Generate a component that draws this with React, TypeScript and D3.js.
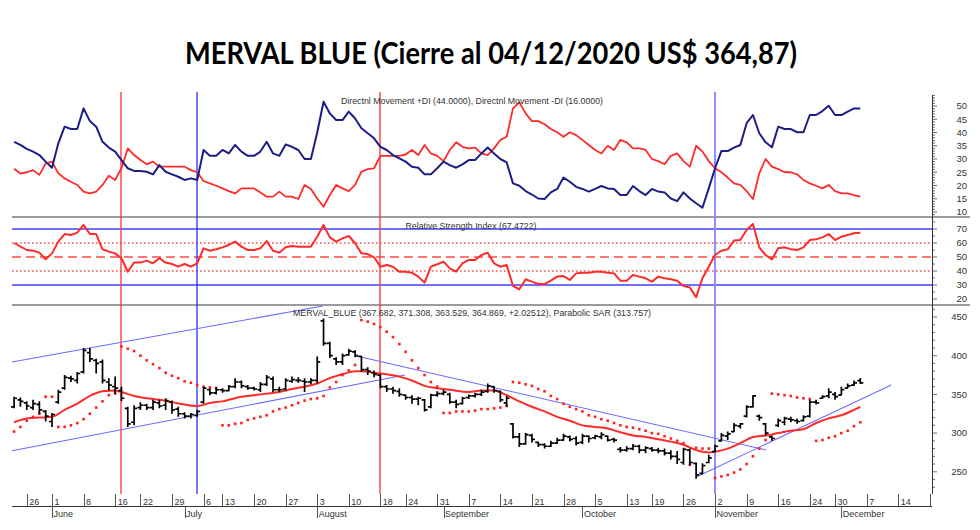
import React from "react";
import * as d3 from "d3";

// ---------- texts ----------
const title = "MERVAL BLUE (Cierre al 04/12/2020 US$ 364,87)";
const dmiLegend = "Directnl Movement +DI (44.0000), Directnl Movement -DI (16.0000)";
const rsiLegend = "Relative Strength Index (67.4722)";
const priceLegend = "MERVAL_BLUE (367.682, 371.308, 363.529, 364.869, +2.02512), Parabolic SAR (313.757)";

// ---------- calendar ----------
const firstDay = "2020-05-21";
const lastAxisDay = "2020-12-21";
const holidays = ["2020-05-25", "2020-06-15", "2020-07-09", "2020-07-10", "2020-08-17", "2020-10-12", "2020-11-23"];
const monthNames = ["January", "February", "March", "April", "May", "June", "July", "August", "September", "October", "November", "December"];

// ---------- price (one value per trading day from 2020-05-21 to 2020-12-04) ----------
const openP = [
  334, 343, 339, 333, 337, 328, 315, 340, 358, 371, 368, 379, 404, 394, 392, 366, 360, 355, 332, 314,
  333, 336, 333, 339, 336, 340, 331, 325, 322, 323, 340, 356, 352, 356, 355, 360, 366, 360, 358, 356,
  363, 370, 356, 357, 367, 368, 367, 366, 368, 445, 416, 396, 392, 401, 405, 399, 382, 378, 375, 360,
  357, 354, 349, 346, 344, 343, 334, 349, 351, 350, 340, 338, 346, 348, 350, 354, 360, 354, 339, 312,
  295, 286, 297, 288, 285, 283, 287, 291, 295, 293, 288, 296, 294, 295, 296, 292, 279, 278, 280, 283,
  278, 280, 278, 277, 274, 270, 262, 278, 261, 248, 262, 276, 290, 296, 302, 309, 322, 334, 322, 312,
  295, 310, 314, 318, 316, 316, 322, 340, 345, 348, 350, 349, 358, 362, 367.68
];
const highP = [
  347, 346, 341, 343, 341, 330, 326, 356, 375, 374, 379, 410, 410, 396, 395, 371, 373, 360, 334, 336,
  340, 338, 343, 343, 345, 342, 334, 327, 326, 330, 360, 358, 360, 358, 362, 371, 368, 362, 360, 366,
  375, 373, 360, 371, 373, 372, 371, 371, 399, 448, 418, 398, 403, 409, 407, 400, 385, 381, 376, 362,
  360, 358, 350, 349, 347, 344, 351, 354, 356, 352, 343, 347, 350, 352, 356, 364, 361, 355, 348, 313,
  300, 300, 299, 289, 287, 290, 294, 299, 297, 296, 299, 297, 298, 301, 297, 294, 282, 283, 286, 285,
  283, 282, 281, 280, 278, 277, 281, 280, 262, 261, 272, 285, 300, 302, 313, 313, 336, 349, 324, 313,
  297, 319, 321, 321, 319, 323, 343, 343, 349, 358, 353, 360, 364, 368, 371.31
];
const lowP = [
  332, 334, 330, 330, 325, 315, 308, 338, 356, 366, 364, 377, 392, 377, 364, 355, 351, 341, 308, 310,
  330, 330, 330, 332, 330, 325, 321, 319, 319, 321, 338, 349, 350, 352, 354, 358, 358, 356, 355, 353,
  361, 353, 353, 355, 365, 365, 353, 363, 364, 413, 397, 388, 388, 400, 398, 379, 375, 372, 358, 353,
  351, 347, 343, 338, 336, 328, 332, 347, 349, 338, 332, 337, 344, 346, 348, 352, 352, 340, 334, 293,
  282, 285, 288, 282, 280, 282, 286, 290, 289, 284, 286, 288, 292, 292, 289, 288, 275, 276, 278, 274,
  274, 276, 274, 271, 266, 260, 259, 258, 241, 247, 261, 275, 289, 291, 301, 306, 320, 333, 316, 297,
  290, 308, 310, 314, 312, 315, 320, 337, 344, 345, 343, 349, 358, 361, 363.53
];
const closeP = [
  345, 341, 335, 338, 330, 322, 324, 353, 372, 370, 377, 407, 396, 390, 368, 362, 358, 345, 312, 332,
  336, 333, 340, 335, 342, 330, 325, 322, 324, 328, 358, 352, 356, 355, 360, 366, 361, 358, 357, 363,
  372, 356, 356, 368, 369, 368, 366, 368, 392, 416, 400, 392, 400, 406, 400, 382, 380, 376, 360, 357,
  355, 350, 346, 344, 345, 330, 349, 351, 353, 340, 337, 345, 348, 350, 353, 361, 355, 343, 345, 295,
  286, 298, 292, 285, 283, 287, 291, 296, 292, 287, 296, 293, 296, 298, 291, 291, 278, 280, 283, 278,
  281, 278, 277, 274, 270, 266, 279, 262, 246, 258, 268, 283, 297, 299, 310, 312, 334, 348, 320, 300,
  293, 316, 319, 317, 315, 321, 340, 339, 347, 353, 347, 356, 361, 365, 364.87
];
const sarP = [
  302, 308, 316, 321, 325, 347, 347, 308, 308, 310, 313, 318, 325, 333, 341, 349, 351, 412, 409, 406,
  400, 394, 389, 384, 378, 374, 371, 367, 365, 362, 360, 359, 358, 310, 310, 312, 313, 317, 319, 321,
  323, 328, 331, 333, 336, 339, 342, 344, 345, 348, 359, 366, 375, 381, 388, 446, 444, 441, 437, 431,
  424, 415, 405, 394, 384, 375, 366, 360, 326, 326, 328, 328, 328, 329, 331, 331, 332, 333, 335, 366,
  365, 363, 361, 357, 354, 348, 344, 338, 334, 331, 328, 323, 321, 318, 316, 313, 310, 308, 307, 305,
  303, 300, 299, 296, 293, 290, 287, 259, 281, 280, 280, 242, 244, 246, 249, 253, 260, 270, 280, 291,
  351, 350, 349, 348, 346, 345, 344, 290, 291, 294, 296, 300, 303, 309, 314
];
// moving average read at selected trading-day indexes
const smaDay = [0, 2, 4, 6, 8, 10, 12, 14, 16, 17, 19, 21, 23, 25, 27, 29, 31, 33, 36, 38, 40, 42, 44, 46, 48, 50, 52, 54, 55, 57, 59, 61, 63, 65, 67, 69, 72, 74, 76, 78, 80, 82, 84, 86, 88, 90, 92, 94, 96, 98, 100, 102, 104, 106, 108, 109, 110, 111, 113, 115, 117, 119, 121, 123, 125, 127, 129, 131, 133, 134];
const smaVal = [314, 319, 320, 321, 330, 338, 348, 354, 355, 353, 348, 345, 343, 340, 337, 335, 339, 341, 347, 349, 351, 353, 357, 360, 364, 371, 376, 380, 380, 378, 376, 373, 368, 361, 358, 356, 353, 355, 355, 349, 341, 334, 328, 321, 316, 310, 308, 306, 301, 297, 295, 292, 289, 285, 278, 276, 275, 276, 280, 287, 295, 297, 300, 303, 305, 313, 319, 323, 330, 334];

// ---------- DMI ----------
const plusDI = [
  36.5, 35.3, 33.8, 32.8, 31.5, 29, 26.7, 35.9, 42.2, 41.3, 41.3, 49.1, 44.3, 42.2, 36.5, 34.3, 32.8, 29.6, 26.5, 25.5,
  25.5, 25.2, 24.2, 27.7, 25.2, 24.2, 23.3, 22.1, 22.7, 22.1, 33.4, 31.2, 31.2, 33.4, 32.1, 35.3, 32.8, 31.2, 31.2, 32.8,
  36.5, 32.1, 31.2, 35.5, 34.6, 33.4, 30, 30, 40, 51.6, 47.2, 44.7, 44.7, 47.9, 45.3, 41.6, 39.7, 37.8, 34.6, 33.4,
  31.5, 30.2, 29, 27.1, 26.7, 24.2, 24.2, 26.5, 29, 27.7, 26.7, 28, 29.6, 29.6, 32.1, 34.3, 32.1, 30, 28.7, 20.8,
  19.9, 17.9, 16.6, 15.1, 14.9, 17.4, 18.7, 23, 21.4, 19.5, 18.7, 17.7, 18.7, 19.8, 18.9, 18.7, 16.4, 16.4, 19.8, 17.9,
  16.4, 18.7, 17.7, 17.4, 15.1, 14.1, 17.4, 15.1, 13.3, 11.6, 18.9, 26.5, 33, 33, 34.3, 35.3, 43.5, 46.6, 39.7, 36.3,
  34.4, 42.2, 41.3, 41.3, 40.1, 40.1, 46.6, 46.6, 48.1, 50.1, 46.6, 46.6, 47.9, 49.1, 49.1
];
const minusDI = [
  26.3, 24.5, 25, 25.8, 24, 28.3, 29, 24.6, 22.7, 21.4, 20.2, 17.7, 17, 17.7, 20.2, 23.7, 22.1, 26.5, 34, 31.5,
  29.6, 28, 29, 27.1, 27.1, 27.1, 27.1, 27.1, 25.8, 25, 21.7, 20.8, 19.9, 18.9, 17.9, 17, 18.9, 18.9, 18.9, 17.4,
  15.8, 15.8, 17.7, 15.8, 15.8, 14.9, 20.2, 18.7, 15.1, 12, 16.4, 20.2, 18.9, 17.9, 20.2, 25.2, 26.2, 26.5, 31.2, 31.2,
  31.2, 31.2, 31.7, 33.4, 31.5, 35.3, 32.1, 31.2, 29.2, 33.4, 36.3, 34.6, 34, 34.3, 32.1, 31.5, 34, 37.2, 38.4, 49.1,
  51.4, 47.2, 44.3, 44.3, 43.1, 41.3, 40.1, 38.4, 40.1, 39, 37.2, 35.3, 33.4, 32.1, 35, 33.4, 37.2, 36.3, 34, 34,
  33.4, 30, 29.2, 28, 31.2, 32.1, 29.2, 27.1, 35, 32.8, 29.2, 26.5, 25, 23, 20.8, 20.2, 17.9, 14.9, 24.6, 30,
  27.1, 26.2, 25, 25, 24.2, 22.1, 20.8, 19.9, 18.9, 20.2, 17.9, 17, 17, 16.4, 15.8
];

// ---------- RSI ----------
const rsi = [
  60, 57.5, 55, 54.5, 53.1, 48.3, 52.6, 61, 66.4, 65.7, 67.4, 72.9, 66.4, 66.4, 55.5, 53.8, 52.6, 49.1, 39.5, 46,
  46, 47.4, 45.5, 49.1, 46, 45, 43.1, 45, 43.1, 45.5, 56.2, 54.5, 55.5, 56.9, 58.6, 61, 57.4, 55, 55, 56.2,
  61.4, 54.5, 53.1, 56.9, 57.8, 57.4, 57.4, 57.4, 64.5, 72.9, 64, 61, 63.3, 65, 59.8, 52.6, 52.1, 49.8, 43.1, 44.3,
  43.1, 39.5, 39.5, 38.8, 36, 31.7, 43.1, 44.8, 46.7, 41.9, 39.5, 45.5, 47.9, 47.9, 51.4, 53.1, 45.5, 43.1, 44.3, 29.3,
  26.9, 34.1, 32.4, 30.7, 30.7, 33.1, 36, 36.4, 33.6, 38.3, 38.8, 38.8, 39.5, 39.5, 38.8, 38.3, 33.1, 33.1, 37.1, 36,
  34.8, 32.4, 36, 34.8, 34.1, 33.1, 29.3, 28.3, 21.2, 34.8, 43.1, 51.4, 54.5, 55.5, 61.7, 62.1, 69.3, 73.6, 56.9, 51.4,
  48.3, 56.2, 56.9, 55.5, 55, 56.9, 62.1, 62.6, 64, 66.4, 62.1, 64.5, 65.7, 66.9, 67.4
];
const rsiLevels = [70, 60, 50, 40, 30];

// ---------- annotations ----------
const markerDates = ["2020-06-17", "2020-07-03", "2020-08-18", "2020-11-02"];
const markerColors = ["#ff3030", "#2a2aff", "#ff3030", "#8e8eff"];
const markerWidths = [1.3, 1.3, 1.3, 2];
// trend lines: start/end as trading-day position and price
const trendX1 = [-0.33, -0.33, 54.2, 108.1];
const trendY1 = [391.9, 277.3, 399.6, 243.7];
const trendX2 = [48.9, 61.9, 119.1, 138.9];
const trendY2 = [464.2, 375, 278.2, 362.1];

const dmiTicks = [50, 45, 40, 35, 30, 25, 20, 15, 10];
const rsiTicks = [70, 60, 50, 40, 30, 20];
const priceTicks = [450, 400, 350, 300, 250];

const FONT = "'Liberation Sans', Arial, sans-serif";

export default function App() {
  const parse = d3.timeParse("%Y-%m-%d");
  const fmt = d3.timeFormat("%Y-%m-%d");
  const days = d3
    .timeDay.range(parse(firstDay)!, d3.timeDay.offset(parse(lastAxisDay)!, 1))
    .filter((d) => d.getDay() !== 0 && d.getDay() !== 6 && !holidays.includes(fmt(d)));

  const left = 12, right = 932, lineRight = 970;
  const dmiTop = 92, sep1 = 217, sep2 = 305, priceBottom = 494, axisY = 506;

  const x = d3.scaleLinear().domain([0, days.length - 1]).range([14.1, 14.1 + (days.length - 1) * 6.315]);
  const yD = d3.scaleLinear().domain([10, 50]).range([212, 106]);
  const yR = d3.scaleLinear().domain([30, 70]).range([285, 229]);
  const yP = d3.scaleLinear().domain([250, 400]).range([471.8, 355.7]);
  // colored hairlines centered on a pixel boundary so they keep their hue
  const soft = (v: number) => Math.round(v);

  const lineD = d3.line<number>().x((_, i) => x(i)).y((v) => yD(v));
  const lineR = d3.line<number>().x((_, i) => x(i)).y((v) => yR(v));
  const lineSma = d3
    .line<number>()
    .x((_, i) => x(smaDay[i]))
    .y((v) => yP(v))
    .curve(d3.curveMonotoneX);

  const bars = closeP.map((c, i) => {
    const cx = x(i);
    return `M${cx},${yP(highP[i])}V${yP(lowP[i])}M${cx - 3},${yP(openP[i])}H${cx}M${cx},${yP(c)}H${cx + 3}`;
  }).join("");

  const weekTicks = days
    .map((d, i) => ({ d, i }))
    .filter(({ d, i }) => i > 0 && +d3.timeMonday.floor(d) !== +d3.timeMonday.floor(days[i - 1]));
  const monthTicks = days
    .map((d, i) => ({ d, i }))
    .filter(({ d, i }) => i > 0 && d.getMonth() !== days[i - 1].getMonth());

  const dayIndex = (s: string) => days.findIndex((d) => fmt(d) === s);

  // right axis ruler ticks
  const dmiMinor = d3.range(8, 55, 1);
  const rsiMinor = d3.range(20, 81, 5);
  const priceMinor = d3.range(230, 461, 10);

  return (
    <svg
      width={980}
      height={530}
      style={{ position: "absolute", left: 0, top: 0, display: "block", background: "#fff" }}
    >
      <defs>
        <clipPath id="axisClip">
          <rect x={0} y={490} width={right} height={40} />
        </clipPath>
      </defs>
      <rect x={0} y={0} width={980} height={530} fill="#fff" />

      {/* title */}
      <text
        x={491}
        y={64}
        textAnchor="middle"
        fontFamily="Lato, 'Open Sans', sans-serif"
        fontWeight={700}
        fontSize={29.5}
        textLength={612}
        lengthAdjust="spacingAndGlyphs"
        fill="#000"
      >
        {title}
      </text>

      {/* panel separators */}
      <line x1={left} x2={lineRight} y1={sep1} y2={sep1} stroke="#7a7a7a" strokeWidth={1.5} />
      <line x1={left} x2={lineRight} y1={sep2} y2={sep2} stroke="#7a7a7a" strokeWidth={1.5} />

      {/* RSI reference lines */}
      {rsiLevels.map((lv) => (
        <line
          key={lv}
          x1={left}
          x2={right}
          y1={soft(yR(lv))}
          y2={soft(yR(lv))}
          stroke={lv === 70 || lv === 30 ? "#4040ff" : "#ff4a4a"}
          strokeWidth={1.3}
          strokeDasharray={lv === 50 ? "9,5" : lv === 60 || lv === 40 ? "1.5,2.5" : undefined}
        />
      ))}

      {/* vertical markers */}
      {markerDates.map((s, k) => (
        <line
          key={s}
          x1={soft(x(dayIndex(s)))}
          x2={soft(x(dayIndex(s)))}
          y1={dmiTop}
          y2={priceBottom}
          stroke={markerColors[k]}
          strokeWidth={markerWidths[k]}
        />
      ))}

      {/* DMI */}
      <path d={lineD(minusDI)!} fill="none" stroke="#ff2a2a" strokeWidth={1.8} strokeLinejoin="round" />
      <path d={lineD(plusDI)!} fill="none" stroke="#1d1d86" strokeWidth={2} strokeLinejoin="round" />
      <text x={472} y={104} textAnchor="middle" fontFamily={FONT} fontSize={9.5} fill="#333" textLength={262} lengthAdjust="spacingAndGlyphs">
        {dmiLegend}
      </text>

      {/* RSI */}
      <path d={lineR(rsi)!} fill="none" stroke="#ff2a2a" strokeWidth={2} strokeLinejoin="round" />
      <text x={471} y={228.5} textAnchor="middle" fontFamily={FONT} fontSize={9.5} fill="#333" textLength={131} lengthAdjust="spacingAndGlyphs">
        {rsiLegend}
      </text>

      {/* price: trend lines */}
      {trendX1.map((tx, k) => (
        <line
          key={k}
          x1={x(tx)}
          y1={yP(trendY1[k])}
          x2={x(trendX2[k])}
          y2={yP(trendY2[k])}
          stroke="#6b6bff"
          strokeWidth={1.1}
        />
      ))}
      <path d={lineSma(smaVal)!} fill="none" stroke="#ff2a2a" strokeWidth={2} />
      {sarP.map((v, i) => (
        <rect key={i} x={x(i) - 1.3} y={yP(v) - 1.3} width={2.6} height={2.6} fill="#ff2020" />
      ))}
      <path d={bars} fill="none" stroke="#000" strokeWidth={1.7} />
      <text x={472} y={316} textAnchor="middle" fontFamily={FONT} fontSize={9.5} fill="#333" textLength={358} lengthAdjust="spacingAndGlyphs">
        {priceLegend}
      </text>

      {/* right axis */}
      <line x1={right + 0.5} x2={right + 0.5} y1={95} y2={priceBottom} stroke="#333" strokeWidth={1} />
      {dmiMinor.filter((v) => yD(v) > 95 && yD(v) < sep1).map((v) => (
        <line key={"dm" + v} x1={right} x2={right + (v % 5 === 0 ? 5 : 3)} y1={yD(v)} y2={yD(v)} stroke="#444" strokeWidth={0.8} />
      ))}
      {rsiMinor.filter((v) => yR(v) > sep1 && yR(v) < sep2).map((v) => (
        <line key={"rm" + v} x1={right} x2={right + (v % 10 === 0 ? 5 : 3)} y1={yR(v)} y2={yR(v)} stroke="#444" strokeWidth={0.8} />
      ))}
      {priceMinor.filter((v) => yP(v) > sep2 && yP(v) < priceBottom).map((v) => (
        <line key={"pm" + v} x1={right} x2={right + (v % 50 === 0 ? 5 : 3)} y1={yP(v)} y2={yP(v)} stroke="#444" strokeWidth={0.8} />
      ))}
      {dmiTicks.map((v) => (
        <text key={"dl" + v} x={967} y={yD(v)} dy="0.35em" textAnchor="end" fontFamily={FONT} fontSize={9.5} fill="#333">
          {v}
        </text>
      ))}
      {rsiTicks.map((v) => (
        <text key={"rl" + v} x={967} y={yR(v)} dy="0.35em" textAnchor="end" fontFamily={FONT} fontSize={9.5} fill="#333">
          {v}
        </text>
      ))}
      {priceTicks.map((v) => (
        <text key={"pl" + v} x={967} y={yP(v)} dy="0.35em" textAnchor="end" fontFamily={FONT} fontSize={9.5} fill="#333">
          {v}
        </text>
      ))}

      {/* bottom axis */}
      <line x1={left} x2={right} y1={axisY + 0.5} y2={axisY + 0.5} stroke="#333" strokeWidth={1} />
      <g clipPath="url(#axisClip)">
        {weekTicks.map(({ d, i }) => (
          <g key={"w" + i}>
            <line x1={Math.round(x(i)) + 0.5} x2={Math.round(x(i)) + 0.5} y1={priceBottom} y2={axisY} stroke="#555" strokeWidth={1} />
            <text x={x(i) + 2.5} y={504.5} fontFamily={FONT} fontSize={9} fill="#333">
              {d.getDate()}
            </text>
          </g>
        ))}
        {monthTicks.map(({ d, i }) => (
          <g key={"m" + i}>
            <line x1={Math.round(x(i)) + 0.5} x2={Math.round(x(i)) + 0.5} y1={axisY} y2={518} stroke="#555" strokeWidth={1} />
            <text x={x(i) + 1.5} y={516.5} fontFamily={FONT} fontSize={9} fill="#333">
              {monthNames[d.getMonth()]}
            </text>
          </g>
        ))}
      </g>
    </svg>
  );
}
